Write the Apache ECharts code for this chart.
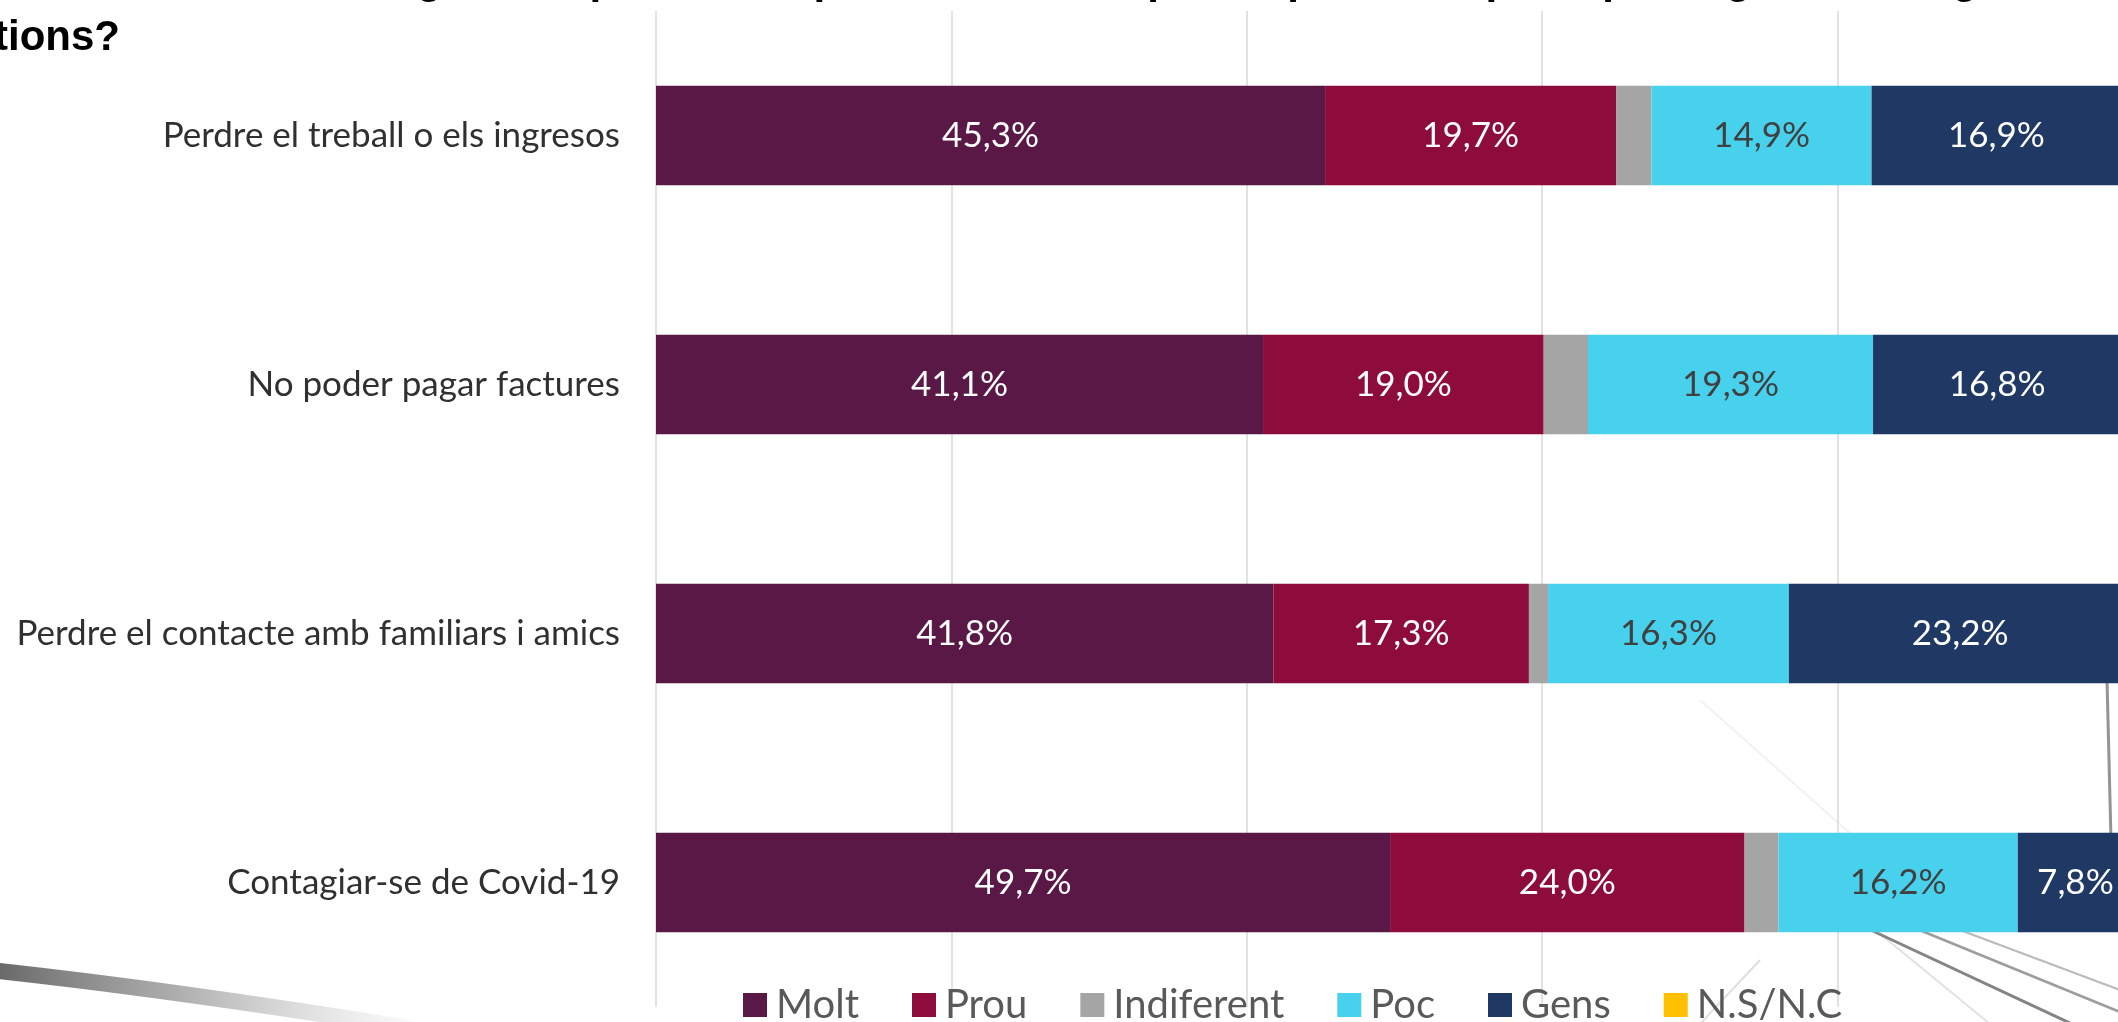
<!DOCTYPE html>
<html>
<head>
<meta charset="utf-8">
<title>Preocupacions</title>
<script src="https://cdn.jsdelivr.net/npm/echarts@6/dist/echarts.min.js"></script>
<style>
  html, body { margin: 0; padding: 0; background: #ffffff; overflow: hidden; }
  /* the plot runs slightly past the right edge of the page */
  #chart { width: 2133px; height: 1022px; }
</style>
</head>
<body>
<div id="chart"></div>
<script>
// Situations asked about (top to bottom)
const categories = [
  'Perdre el treball o els ingresos',
  'No poder pagar factures',
  'Perdre el contacte amb familiars i amics',
  'Contagiar-se de Covid-19'
];

// Share of answers per level of concern (%)
const molt       = [45.3, 41.1, 41.8, 49.7];
const prou       = [19.7, 19.0, 17.3, 24.0];
const indiferent = [2.4, 3.0, 1.3, 2.3];
const poc        = [14.9, 19.3, 16.3, 16.2];
const gens       = [16.9, 16.8, 23.2, 7.8];
const nsnc       = [0.8, 0.8, 0.1, 0.0];

const seriesNames = ['Molt', 'Prou', 'Indiferent', 'Poc', 'Gens', 'N.S/N.C'];
const seriesData  = [molt, prou, indiferent, poc, gens, nsnc];
const colors      = ['#5A1846', '#8E0C3C', '#A5A5A5', '#48D1EC', '#203864', '#FFC000'];
const labelColors = ['#ffffff', '#ffffff', null, '#404040', '#ffffff', null];

// Survey question heading (two lines, running past the page edges)
const titleLine1 = 'Amb la Covid-19, en general, pensant-hi personalment, li preocupen molt, prou, poc o gens les següents';
const titleLine2 = 'qüestions?';

const FONT = 'Lato, "Open Sans", sans-serif';
const TITLE_FONT = 'bold 42px "Liberation Sans", Arial, sans-serif';

const chart = echarts.init(document.getElementById('chart'), null, { renderer: 'canvas' });

const series = seriesNames.map((name, i) => ({
  name: name,
  type: 'bar',
  stack: 'total',
  barWidth: '40%',
  data: seriesData[i],
  itemStyle: { color: colors[i] },
  label: {
    show: labelColors[i] !== null,
    position: 'inside',
    color: labelColors[i] || '#fff',
    fontFamily: FONT,
    fontSize: 35,
    formatter: p => p.value.toFixed(1).replace('.', ',') + '%'
  },
  emphasis: { disabled: true }
}));

chart.setOption({
  backgroundColor: '#ffffff',
  animation: false,
  legend: {
    data: seriesNames,
    left: 743,
    top: 985,
    padding: 0,
    icon: 'rect',
    itemWidth: 24,
    itemHeight: 24,
    itemGap: 53,
    selectedMode: false,
    textStyle: { fontFamily: FONT, fontSize: 40, color: '#595959', padding: [0, 0, 0, 4] }
  },
  grid: { left: 656, right: 0, top: 11, bottom: 15 },
  xAxis: {
    type: 'value',
    min: 0,
    max: 100,
    interval: 20,
    axisLabel: { show: false },
    axisTick: { show: false },
    axisLine: { show: false },
    splitLine: { show: true, lineStyle: { color: '#D9D9D9', width: 1.5 } }
  },
  yAxis: {
    type: 'category',
    data: categories,
    inverse: true,
    axisTick: { show: false },
    axisLine: { show: false },
    axisLabel: { fontFamily: FONT, fontSize: 35, color: '#303030', margin: 36 }
  },
  graphic: [
    // Heading; a tall line box keeps the first line from being culled at the top edge
    {
      type: 'text', z: 10, silent: true, x: 2090, y: -19,
      style: { text: titleLine1, font: TITLE_FONT, lineHeight: 64, fill: '#000000', align: 'right', verticalAlign: 'middle' }
    },
    {
      type: 'text', z: 10, silent: true, x: -104, y: 38,
      style: { text: titleLine2, font: TITLE_FONT, fill: '#000000', align: 'left', verticalAlign: 'middle' }
    },
    // Slide background strokes
    {
      type: 'bezierCurve', z: -10, silent: true,
      shape: { x1: -10, y1: 970, cpx1: 120, cpy1: 984, cpx2: 260, cpy2: 1004, x2: 410, y2: 1028 },
      style: {
        lineWidth: 16, fill: null,
        stroke: new echarts.graphic.LinearGradient(0, 0, 1, 0, [
          { offset: 0, color: 'rgba(80,80,80,0.9)' },
          { offset: 0.45, color: 'rgba(120,120,120,0.6)' },
          { offset: 1, color: 'rgba(180,180,180,0.05)' }
        ])
      }
    },
    { type: 'line', z: -10, silent: true, shape: { x1: 1860, y1: 925, x2: 2072, y2: 1024 }, style: { stroke: 'rgba(50,50,50,0.6)', lineWidth: 3 } },
    { type: 'line', z: -10, silent: true, shape: { x1: 1895, y1: 920, x2: 2120, y2: 1012 }, style: { stroke: 'rgba(60,60,60,0.5)', lineWidth: 2.5 } },
    { type: 'line', z: -10, silent: true, shape: { x1: 1960, y1: 930, x2: 2120, y2: 990 }, style: { stroke: 'rgba(80,80,80,0.4)', lineWidth: 2 } },
    { type: 'line', z: -10, silent: true, shape: { x1: 1790, y1: 860, x2: 1990, y2: 1024 }, style: { stroke: 'rgba(140,140,140,0.25)', lineWidth: 2 } },
    { type: 'line', z: -10, silent: true, shape: { x1: 1700, y1: 700, x2: 1880, y2: 860 }, style: { stroke: 'rgba(190,190,190,0.2)', lineWidth: 2 } },
    { type: 'line', z: -10, silent: true, shape: { x1: 1760, y1: 960, x2: 1700, y2: 1024 }, style: { stroke: 'rgba(150,150,150,0.3)', lineWidth: 2 } },
    { type: 'line', z: -10, silent: true, shape: { x1: 2107, y1: 680, x2: 2111, y2: 840 }, style: { stroke: 'rgba(60,60,60,0.55)', lineWidth: 3 } }
  ],
  series: series
});
</script>
</body>
</html>
